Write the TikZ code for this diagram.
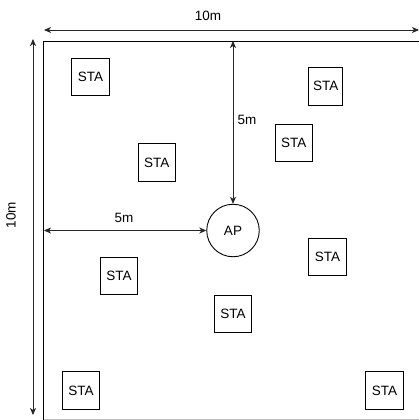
\documentclass[tikz,border=0pt]{standalone}
\usepackage{fontspec}
\setmainfont{Liberation Sans}
\usetikzlibrary{arrows.meta}
\begin{document}
\begin{tikzpicture}[x=1pt,y=-1pt,
  sta/.style={draw,line width=0.9pt,minimum width=37.5pt,minimum height=37.5pt,inner sep=0pt,font=\fontsize{13.5}{16}\selectfont},
  apnode/.style={draw,circle,line width=0.9pt,minimum size=52.5pt,inner sep=0pt,font=\fontsize{13.5}{16}\selectfont},
  dim/.style={line width=0.9pt,draw=black!85,{Stealth[length=7pt,width=6pt,inset=2pt]}-{Stealth[length=7pt,width=6pt,inset=2pt]}},
  lbl/.style={font=\fontsize{13.5}{16}\selectfont,inner sep=0pt}]
\useasboundingbox (0,0) rectangle (419,420);
\fill[white] (0,0) rectangle (419,420);
% frame
\draw[line width=0.9pt] (43.5,41) -- (419.6,41);
\draw[line width=0.9pt] (43.5,41) -- (43.5,419.6);
\draw[line width=0.9pt,black!25] (43.5,419.6) -- (419.6,419.6);
% nodes
\node[apnode] (ap) at (233,230.5) {AP};
\node[sta] (s1) at (90.5,77) {STA};
\node[sta] (s2) at (156.7,162.5) {STA};
\node[sta,minimum width=34pt] (s3) at (325.8,86.2) {STA};
\node[sta] (s4) at (293.7,143) {STA};
\node[sta] (s5) at (119,276) {STA};
\node[sta] (s6) at (233,314) {STA};
\node[sta] (s7) at (327.5,257) {STA};
\node[sta] (s8) at (81,390.5) {STA};
\node[sta] (s9) at (384.5,390.5) {STA};
% dimension coordinates
\coordinate (tl) at (44,30);
\coordinate (tr) at (419,30);
\coordinate (lt) at (33,39);
\coordinate (lb) at (33,415);
\coordinate (vt) at (233,41);
\coordinate (hl) at (44,230.5);
\draw[dim] (tl) -- (tr);
\draw[dim] (lt) -- (lb);
\draw[dim] (vt) -- (ap.north);
\draw[dim] (hl) -- (ap.west);
\node[lbl] (l1) at (208,16) {10m};
\node[lbl,rotate=90] (l2) at (11,215) {10m};
\node[lbl] (l3) at (247,120) {5m};
\node[lbl] (l4) at (124,218) {5m};
\end{tikzpicture}
\end{document}
